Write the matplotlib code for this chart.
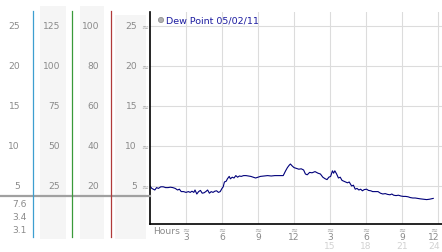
import matplotlib
matplotlib.use("Agg")
import matplotlib.pyplot as plt
from matplotlib.transforms import Affine2D, blended_transform_factory, ScaledTranslation
from matplotlib.patches import Rectangle, Circle
from matplotlib.lines import Line2D

W, H = 442, 253

hours = [0.0, 0.15, 0.4, 0.55, 0.7, 0.9, 1.1, 1.3, 1.5, 1.7, 1.9, 2.1, 2.3, 2.45, 2.6,
         2.8, 3.0, 3.2, 3.35, 3.5, 3.65, 3.75, 3.9, 4.05, 4.2, 4.35, 4.5, 4.65, 4.8,
         4.95, 5.1, 5.25, 5.4, 5.55, 5.7, 5.85, 6.0, 6.1, 6.2, 6.35, 6.45, 6.6, 6.7,
         6.85, 7.0, 7.15, 7.3, 7.45, 7.6, 7.8, 8.0, 8.2, 8.4, 8.6, 8.8, 9.0, 9.2, 9.5,
         9.8, 10.1, 10.4, 10.8, 11.1, 11.3, 11.45, 11.6, 11.7, 11.85, 12.0, 12.2, 12.4,
         12.6, 12.8, 12.95, 13.1, 13.3, 13.5, 13.75, 14.0, 14.2, 14.4, 14.6, 14.75,
         14.9, 15.05, 15.2, 15.3, 15.4, 15.55, 15.7, 15.85, 16.0, 16.15, 16.3, 16.45,
         16.6, 16.8, 16.95, 17.1, 17.25, 17.4, 17.55, 17.7, 17.85, 18.05, 18.2, 18.4,
         18.55, 18.75, 19.0, 19.2, 19.4, 19.6, 19.8, 20.0, 20.15, 20.3, 20.5, 20.7,
         20.9, 21.1, 21.3, 21.5, 21.7, 21.9, 22.1, 22.3, 22.5, 22.8, 23.05, 23.3,
         23.45, 23.6]
dew_point = [5.0, 4.7, 4.5, 4.8, 4.7, 4.9, 4.9, 4.8, 4.8, 4.85, 4.8, 4.7, 4.5, 4.6, 4.3,
             4.3, 4.2, 4.3, 4.2, 4.35, 4.2, 4.5, 4.0, 4.3, 4.45, 4.1, 4.15, 4.3, 4.5,
             4.1, 4.3, 4.2, 4.35, 4.4, 4.2, 4.3, 4.7, 4.9, 5.5, 5.6, 5.9, 6.2, 5.9,
             6.1, 6.0, 6.3, 6.1, 6.25, 6.2, 6.3, 6.3, 6.25, 6.2, 6.1, 6.0, 6.1, 6.2, 6.25,
             6.3, 6.25, 6.3, 6.3, 6.3, 6.9, 7.3, 7.6, 7.75, 7.5, 7.3, 7.2, 7.1,
             7.15, 7.0, 6.5, 6.4, 6.7, 6.65, 6.8, 6.6, 6.5, 6.1, 5.9, 5.8,
             6.1, 6.2, 6.9, 6.6, 6.9, 6.5, 6.0, 6.1, 5.7, 5.6, 5.5, 5.4,
             5.5, 5.0, 5.1, 4.6, 4.7, 4.5, 4.6, 4.4, 4.55, 4.6, 4.45, 4.4,
             4.3, 4.3, 4.3, 4.1, 4.0, 4.05, 3.95, 3.9, 4.0, 3.85, 3.8, 3.85,
             3.75, 3.7, 3.7, 3.65, 3.55, 3.5, 3.5, 3.45, 3.4, 3.35, 3.3, 3.35,
             3.4, 3.45]

y_ticks = [25, 20, 15, 10, 5]
scale_temp = ["25", "20", "15", "10", "5"]
scale_pct = ["125", "100", "75", "50", "25"]
scale_hum = ["100", "80", "60", "40", "20"]
current_values = ["7.6", "3.4", "3.1"]
hour_ticks = [3, 6, 9, 12, 15, 18, 21, 24]
hour_labels = ["3", "6", "9", "12", "3", "6", "9", "12"]
day_ticks = [15, 18, 21, 24]
day_labels = ["15", "18", "21", "24"]
title = "Dew Point 05/02/11"

LABEL = "#8a8a8a"
MARK = "#a5a5a5"
FS = 6.6

fig = plt.figure(figsize=(W / 100, H / 100), dpi=100)
fig.patch.set_facecolor("white")
# pixel coordinates, origin top-left
pix = Affine2D().scale(1 / W, -1 / H).translate(0, 1) + fig.transFigure


def box(x0, y0, w, h):
    return [x0 / W, 1 - (y0 + h) / H, w / W, h / H]


ax = fig.add_axes(box(150, 13, 292, 212))
ax.set_xlim(0, 24.33)
ax.set_ylim(0.25, 26.75)
for side in ["top", "right"]:
    ax.spines[side].set_visible(False)
ax.spines["left"].set_linewidth(1.2)
ax.spines["bottom"].set_linewidth(1.2)
ax.set_xticks(hour_ticks)
ax.set_yticks(y_ticks)
ax.tick_params(length=0, labelleft=False, labelbottom=False)
ax.grid(True, color="#dcdcdc", linewidth=0.8)
ax.set_axisbelow(True)

ax.plot(hours, dew_point, color="#00007a", linewidth=0.8)

# left panel: shaded columns and coloured scale lines
for x0, y0, w, h in [(40, 7, 26, 233), (80, 7, 24, 233), (115, 16, 31, 224)]:
    fig.add_artist(Rectangle((x0, y0), w, h, transform=pix, facecolor="#f5f5f5",
                             edgecolor="none", zorder=0))
for x, c in [(33, "#3d9fd0"), (72, "#3a9a3a"), (111, "#b03a3a")]:
    fig.add_artist(Line2D([x, x], [12, 238], transform=pix, color=c, linewidth=0.9))
fig.add_artist(Line2D([0, 150], [197, 197], transform=pix, color="#a0a0a0",
                      linewidth=1.6, zorder=1))

ty = blended_transform_factory(pix, ax.transData)
for v, a, b, c, d in zip(y_ticks, scale_temp, scale_pct, scale_hum, scale_temp):
    fig.text(20, v, a, transform=ty, ha="right", va="center", fontsize=FS, color=LABEL)
    fig.text(60, v, b, transform=ty, ha="right", va="center", fontsize=FS, color=LABEL)
    fig.text(99, v, c, transform=ty, ha="right", va="center", fontsize=FS, color=LABEL)
    fig.text(137, v, d, transform=ty, ha="right", va="center", fontsize=FS, color=LABEL)
    fig.text(145, v + 0.1, "≈", transform=ty, ha="center", va="center", fontsize=6, color=MARK)

for i, s in enumerate(current_values):
    fig.text(27, 205 + 13 * i, s, transform=pix, ha="right", va="center",
             fontsize=FS, color=LABEL)

# hour labels under the plot
tx = blended_transform_factory(ax.transData, pix)
for t, s in zip(hour_ticks, hour_labels):
    shift = ScaledTranslation(-4 / 100, 0, fig.dpi_scale_trans) if t == 24 else Affine2D()
    fig.text(t, 230, "≈", transform=tx + shift, ha="center", va="center", fontsize=6, color=MARK)
    fig.text(t, 238, s, transform=tx + shift, ha="center", va="center", fontsize=FS, color=LABEL)
for t, s in zip(day_ticks, day_labels):
    shift = ScaledTranslation(-4 / 100, 0, fig.dpi_scale_trans) if t == 24 else Affine2D()
    fig.text(t, 247, s, transform=tx + shift, ha="center", va="center", fontsize=FS, color="#d2d2d2")
fig.text(153, 232, "Hours", transform=pix, ha="left", va="center", fontsize=FS, color=LABEL)

# legend
fig.add_artist(Circle((161, 21), 2.6, transform=pix, facecolor="#b0b0b0",
                      edgecolor="#888888", linewidth=0.5))
fig.text(166, 21, title, transform=pix, ha="left", va="center", fontsize=6.8, color="#1c1ca0")

fig.savefig("out.png", dpi=100)
